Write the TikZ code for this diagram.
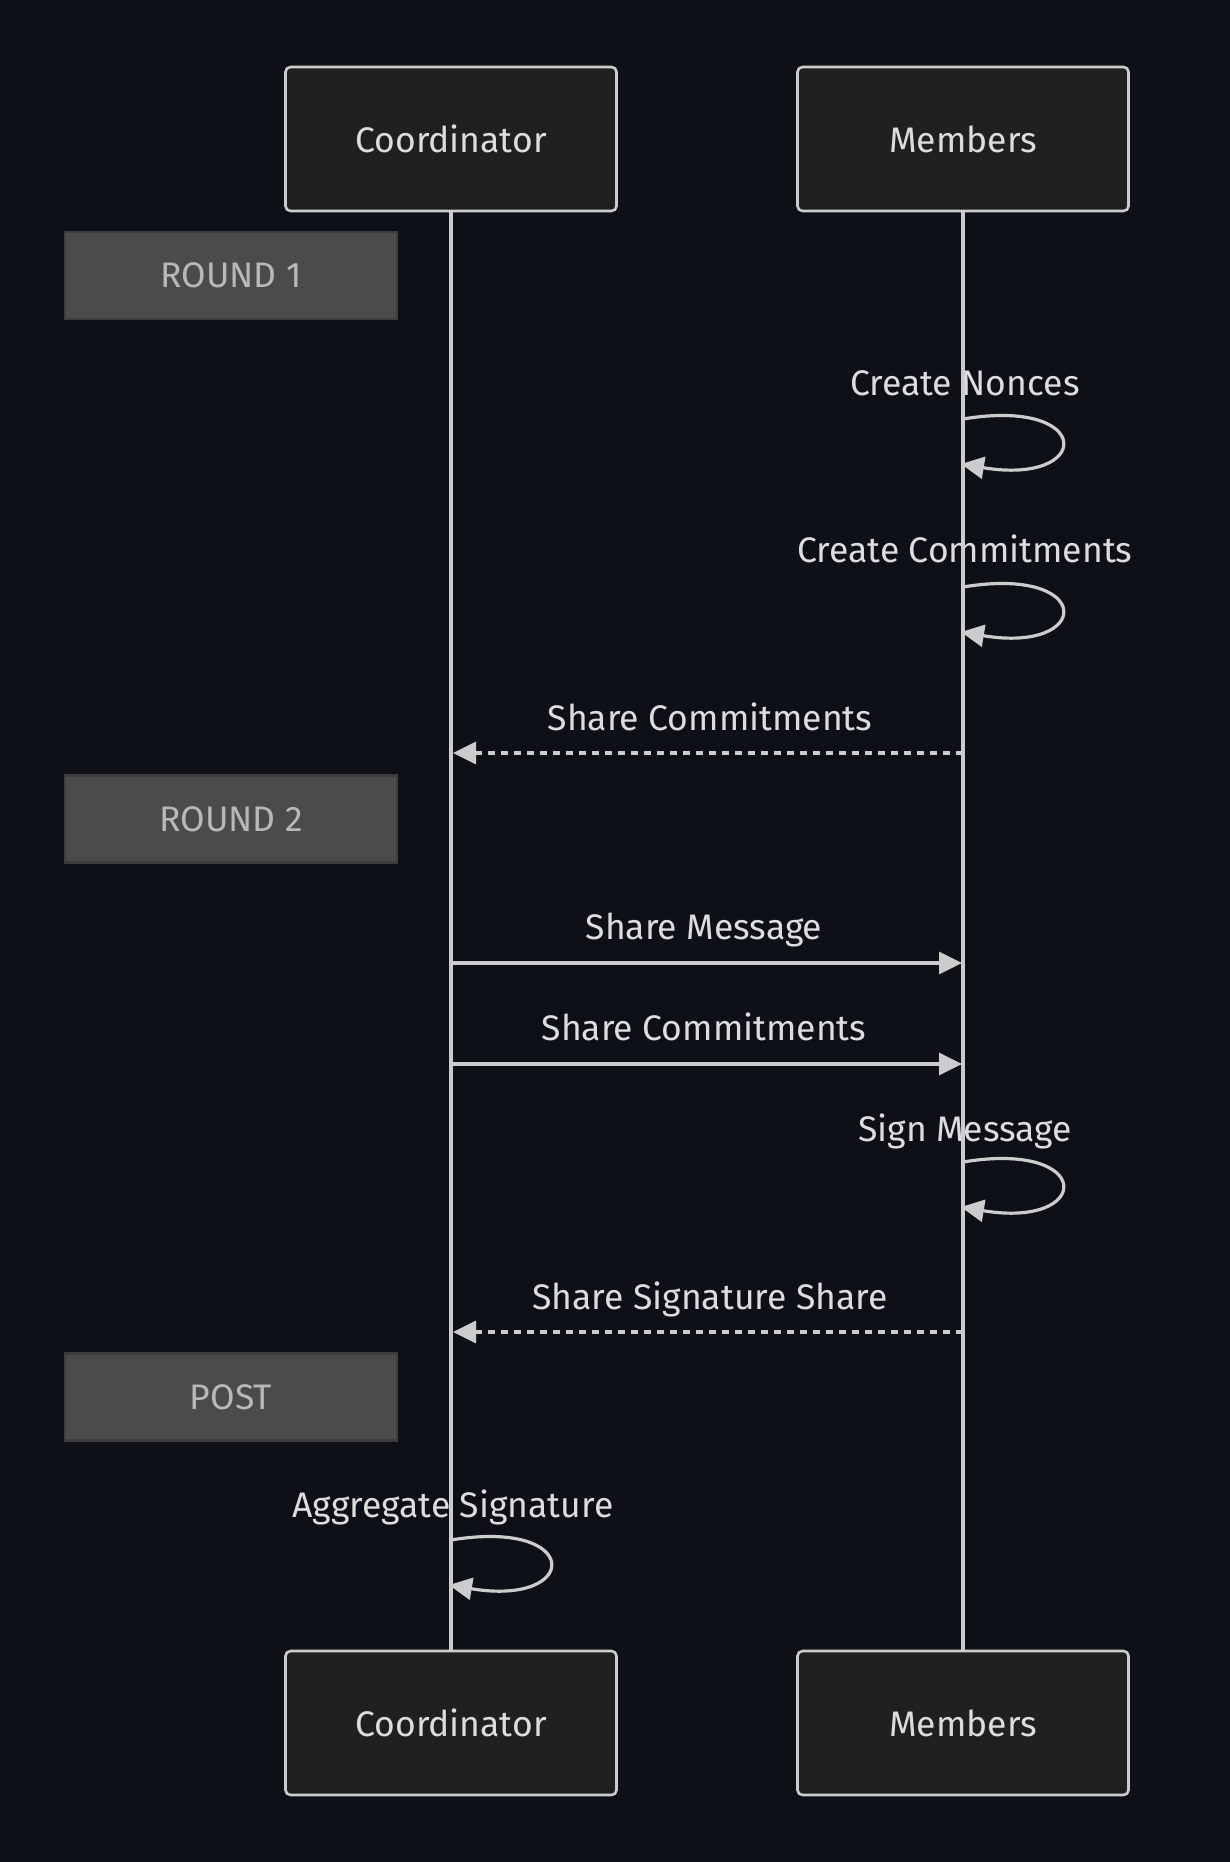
\documentclass[tikz,border=0pt]{standalone}
\usepackage{fontspec}
\setmainfont{Fira Sans}
\usetikzlibrary{arrows.meta}
\definecolor{bg}{HTML}{0D1117}
\definecolor{actorfill}{HTML}{1F2020}
\definecolor{actorline}{HTML}{CCCCCC}
\definecolor{txt}{HTML}{DDDDDD}
\definecolor{notefill}{HTML}{4A4B4A}
\definecolor{noteline}{HTML}{3C3D3D}
\definecolor{notetxt}{HTML}{B8B8B8}
\definecolor{wire}{HTML}{CCCCCC}
\begin{document}
\begin{tikzpicture}[x=1pt,y=-1pt,
  actor/.style={draw=actorline, line width=2.6pt, fill=actorfill, rounded corners=5pt,
    minimum width=331pt, minimum height=144pt, text=txt, inner sep=0pt,
    font=\fontsize{35.5}{42}\selectfont},
  phase/.style={draw=noteline, line width=2.6pt, fill=notefill, minimum width=332pt,
    minimum height=87pt, text=notetxt, inner sep=0pt, font=\fontsize{35.5}{42}\selectfont},
  lifeline/.style={draw=wire, line width=3.6pt},
  msg/.style={draw=wire, line width=3.2pt, -{Triangle[length=23pt,width=22pt]}},
  reply/.style={msg, dash pattern=on 7pt off 6pt},
  lbl/.style={text=txt, inner sep=0pt, text height=26pt, text depth=7pt,
    font=\fontsize{35.5}{42}\selectfont}
]
\fill[bg] (0,0) rectangle (1230,1862);
\useasboundingbox (0,0) rectangle (1230,1862);

% actors
\node[actor] (ct) at (451,139) {Coordinator};
\node[actor] (mt) at (963,139) {Members};
\node[actor] (cb) at (451,1723) {Coordinator};
\node[actor] (mb) at (963,1723) {Members};

% phase notes
\node[phase] (r1) at (231,275.5) {ROUND 1};
\node[phase] (r2) at (231,819) {ROUND 2};
\node[phase] (post) at (231,1397) {POST};

% labels (uniform box: centre = baseline - 9.5)
\node[lbl] (l1) at (965,385.5) {Create Nonces};
\node[lbl] (l2) at (965,552.5) {Create Commitments};
\node[lbl] (l3) at (710,720.5) {Share Commitments};
\node[lbl] (l4) at (704,929.5) {Share Message};
\node[lbl] (l5) at (704,1030.5) {Share Commitments};
\node[lbl] (l6) at (965,1131.5) {Sign Message};
\node[lbl] (l7) at (710,1299.5) {Share Signature Share};
\node[lbl] (l8) at (453,1507.5) {Aggregate Signature};

% lifelines
\draw[lifeline] (ct.south) -- (cb.north);
\draw[lifeline] (mt.south) -- (mb.north);

% anchor points on lifelines
\coordinate (n1a) at (963,419);  \coordinate (n1b) at (961,464);
\coordinate (n2a) at (963,587);  \coordinate (n2b) at (961,632);
\coordinate (s1a) at (963,753);  \coordinate (s1b) at (453,753);
\coordinate (s2a) at (451,963);  \coordinate (s2b) at (962,963);
\coordinate (s3a) at (451,1064); \coordinate (s3b) at (962,1064);
\coordinate (n3a) at (963,1162); \coordinate (n3b) at (961,1207);
\coordinate (s4a) at (963,1332); \coordinate (s4b) at (453,1332);
\coordinate (n4a) at (451,1540); \coordinate (n4b) at (449,1585);

% messages
\draw[msg] (n1a) .. controls +(132,-22) and +(132,22) .. (n1b);
\draw[msg] (n2a) .. controls +(132,-22) and +(132,22) .. (n2b);
\draw[reply] (s1a) -- (s1b);
\draw[msg] (s2a) -- (s2b);
\draw[msg] (s3a) -- (s3b);
\draw[msg] (n3a) .. controls +(132,-22) and +(132,22) .. (n3b);
\draw[reply] (s4a) -- (s4b);
\draw[msg] (n4a) .. controls +(132,-22) and +(132,22) .. (n4b);
\end{tikzpicture}
\end{document}
